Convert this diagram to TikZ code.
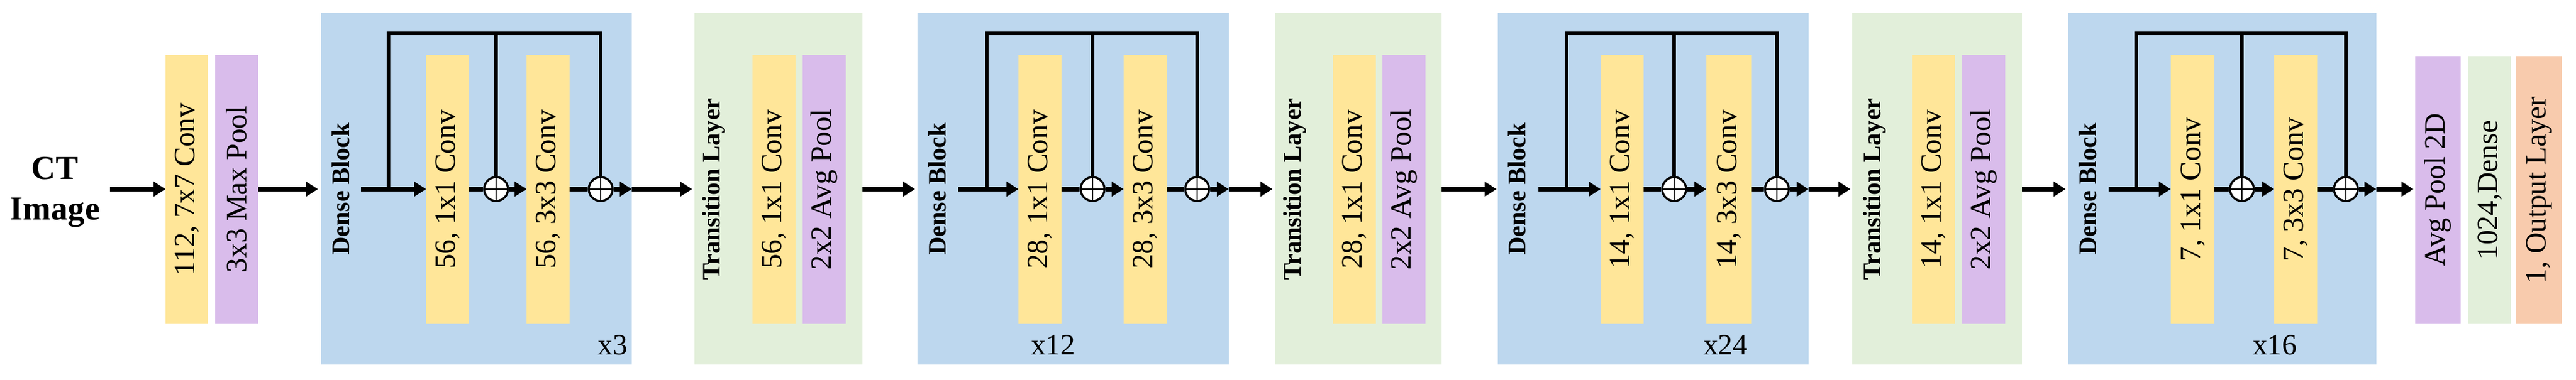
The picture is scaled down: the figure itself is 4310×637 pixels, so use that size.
\documentclass[tikz,border=0pt]{standalone}
\usepackage{fontspec}
\setmainfont{Liberation Serif}
\usetikzlibrary{fit,arrows.meta}
\definecolor{cyel}{HTML}{FFE699}
\definecolor{cpur}{HTML}{D9BCEB}
\definecolor{cblu}{HTML}{BDD7EE}
\definecolor{cgrn}{HTML}{E2EFDA}
\definecolor{cora}{HTML}{F8CBAD}
\tikzset{
  area/.style={inner sep=0pt,outer sep=0pt,draw=none},
  lbl/.style={rotate=90,font=\fontsize{14}{16}\selectfont},
  blbl/.style={rotate=90,font=\bfseries\fontsize{12}{14}\selectfont},
  rep/.style={font=\fontsize{14}{16}\selectfont},
  main/.style={line width=2.4pt},
  arr/.style={main,-{Triangle[length=0.2cm,width=0.24cm]}},
  skip/.style={line width=1.6pt},
  plus/.style={circle,draw,fill=white,line width=1pt,minimum size=0.4cm,inner sep=0pt,
    path picture={\draw[line width=0.8pt] (path picture bounding box.north) -- (path picture bounding box.south)
      (path picture bounding box.west) -- (path picture bounding box.east);}}
}
\begin{document}
\begin{tikzpicture}[x=0.01cm,y=-0.01cm]
\useasboundingbox (0,0) rectangle (4310,637);
% input
\node[font=\bfseries\fontsize{16}{19.5}\selectfont,align=center] (ct) at (92,322) {CT\\Image};
\coordinate (ins) at (184,317);
\node[area,fill=cyel,fit={(277,92)(348,543)}] (c0) {};
\node[lbl] at (c0.center) {112, 7x7 Conv};
\node[area,fill=cpur,fit={(360,92)(432,543)}] (p0) {};
\node[lbl] at (p0.center) {3x3 Max Pool};
\draw[arr] (ins) -- (c0.west |- ins);
% dense blocks
\foreach \n/\xa/\xb/\xt/\xs/\xl/\aa/\ab/\oa/\ba/\bb/\ob/\rx/\rp/\s in {
 1/537/1057/570/604/650/713/785/830/881/953/1005/1025/x3/56,
 2/1535/2056/1568/1603/1651/1704/1776/1828/1880/1952/2003/1762/x12/28,
 3/2506/3026/2538/2574/2621/2678/2750/2801/2855/2930/2973/2887/x24/14,
 4/3460/3976/3493/3528/3574/3632/3705/3751/3805/3877/3925/3806/x16/7}{
  \node[area,fill=cblu,fit={(\xa,22)(\xb,611)}] (db\n) {};
  \node[blbl] at (\xt,317) {Dense Block};
  \node[area,fill=cyel,fit={(\aa,92)(\ab,543)}] (da\n) {};
  \node[lbl] at (da\n.center) {\s, 1x1 Conv};
  \node[area,fill=cyel,fit={(\ba,92)(\bb,543)}] (dc\n) {};
  \node[lbl] at (dc\n.center) {\s, 3x3 Conv};
  \node[plus] (oa\n) at (\oa,317) {};
  \node[plus] (ob\n) at (\ob,317) {};
  \node[rep] at (\rx,578) {\rp};
  \coordinate (s\n) at (\xs,317);
  \coordinate (l\n) at (\xl,317);
  \coordinate (t\n) at (\xl,56);
  \coordinate (e\n) at (\xb,317);
  \draw[arr] (s\n) -- (da\n.west |- s\n);
  \draw[main] (da\n.east |- s\n) -- (oa\n);
  \draw[arr] (oa\n) -- (dc\n.west |- s\n);
  \draw[main] (dc\n.east |- s\n) -- (ob\n);
  \draw[arr] (ob\n) -- (e\n);
  \draw[skip] (l\n) -- (t\n) -| (ob\n.north);
  \draw[skip] (oa\n.north) -- (oa\n.north |- t\n);
}
% transition layers
\foreach \n/\xa/\xb/\xt/\aa/\ab/\ba/\bb/\s in {
 1/1162/1443/1194/1259/1331/1343/1415/56,
 2/2133/2412/2166/2230/2302/2313/2385/28,
 3/3099/3383/3136/3199/3271/3283/3355/14}{
  \node[area,fill=cgrn,fit={(\xa,22)(\xb,611)}] (tl\n) {};
  \node[blbl] at (\xt,317) {Transition Layer};
  \node[area,fill=cyel,fit={(\aa,92)(\ab,543)}] (ta\n) {};
  \node[lbl] at (ta\n.center) {\s, 1x1 Conv};
  \node[area,fill=cpur,fit={(\ba,92)(\bb,543)}] (tp\n) {};
  \node[lbl] at (tp\n.center) {2x2 Avg Pool};
}
% head
\node[area,fill=cpur,fit={(4041,94)(4117,543)}] (ap) {};
\node[lbl] at (ap.center) {Avg Pool 2D};
\node[area,fill=cgrn,fit={(4130,94)(4201,543)}] (dn) {};
\node[lbl] at (dn.center) {1024,Dense};
\node[area,fill=cora,fit={(4210,94)(4286,543)}] (ou) {};
\node[lbl] at (ou.center) {1, Output Layer};
% inter-block arrows
\draw[arr] (p0.east |- ins) -- ([xshift=-0.05cm]db1.west |- ins);
\draw[arr] (e1) -- ([xshift=-0.04cm]tl1.west |- e1);
\draw[arr] (tl1.east |- ins) -- ([xshift=-0.04cm]db2.west |- ins);
\draw[arr] (e2) -- ([xshift=-0.04cm]tl2.west |- e2);
\draw[arr] (tl2.east |- ins) -- ([xshift=-0.02cm]db3.west |- ins);
\draw[arr] (e3) -- ([xshift=-0.03cm]tl3.west |- e3);
\draw[arr] (tl3.east |- ins) -- ([xshift=-0.04cm]db4.west |- ins);
\draw[arr] (e4) -- ([xshift=-0.03cm]ap.west |- e4);
\end{tikzpicture}
\end{document}
